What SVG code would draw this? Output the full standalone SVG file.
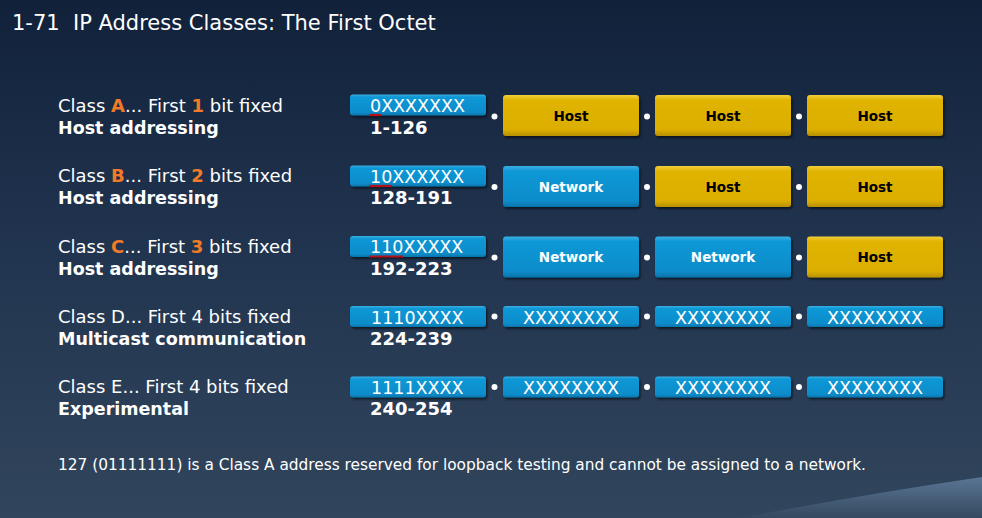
<svg xmlns="http://www.w3.org/2000/svg" width="982" height="518" viewBox="0 0 982 518">
<defs>
<linearGradient id="bg" x1="0" y1="0" x2="0" y2="1">
<stop offset="0" stop-color="#11213a"/>
<stop offset="0.5" stop-color="#223550"/>
<stop offset="1" stop-color="#31455c"/>
</linearGradient>
<linearGradient id="swoosh" x1="0" y1="0" x2="0" y2="1">
<stop offset="0" stop-color="#5a7595"/>
<stop offset="1" stop-color="#34495f"/>
</linearGradient>
<linearGradient id="blue" x1="0" y1="0" x2="0" y2="1">
<stop offset="0" stop-color="#3ab0e4"/>
<stop offset="0.12" stop-color="#1198d6"/>
<stop offset="0.85" stop-color="#0a8cca"/>
<stop offset="1" stop-color="#0672a8"/>
</linearGradient>
<linearGradient id="gold" x1="0" y1="0" x2="0" y2="1">
<stop offset="0" stop-color="#f2cf3a"/>
<stop offset="0.12" stop-color="#e0b404"/>
<stop offset="0.85" stop-color="#dcae00"/>
<stop offset="1" stop-color="#b89000"/>
</linearGradient>
<filter id="sh" x="-5%" y="-20%" width="112%" height="150%">
<feDropShadow dx="1.5" dy="2" stdDeviation="1.2" flood-color="#000" flood-opacity="0.55"/>
</filter>
</defs>
<style>
text{font-family:"DejaVu Sans",Verdana,sans-serif;fill:#fff}
.lbl{font-size:18px}
.b{font-weight:bold;font-size:17.5px}
.or{fill:#f07a28;font-weight:bold}
.bt{font-size:17.5px}
.rng{font-size:18px;font-weight:bold}
.bx{fill:url(#blue);filter:url(#sh)}
.gx{fill:url(#gold);filter:url(#sh)}
.nt{font-size:13.5px;font-weight:bold;text-anchor:middle}
.ht{font-size:13.5px;font-weight:bold;text-anchor:middle;fill:#000}
.xt{font-size:17.5px;text-anchor:middle}
.ul{stroke:#b4121a;stroke-width:2.2}
.dot{fill:#fff}
</style>
<rect width="982" height="518" fill="url(#bg)"/>
<path d="M740 518 Q860 495 982 477 L982 518 Z" fill="url(#swoosh)"/>
<text x="12" y="30" font-size="21" xml:space="preserve">1-71  IP Address Classes: The First Octet</text>

<g id="classA">
<text class="lbl" x="58" y="112">Class <tspan class="or">A</tspan>... First <tspan class="or">1</tspan> bit fixed</text>
<text class="lbl b" x="58" y="134">Host addressing</text>
<rect class="bx" x="350" y="94.5" width="136" height="21" rx="3"/>
<text class="bt" x="370" y="112">0XXXXXXX</text>
<line class="ul" x1="369" y1="115" x2="381" y2="115"/>
<text class="rng" x="370" y="133.5">1-126</text>
<rect class="gx" x="503" y="95" width="136" height="41" rx="3"/>
<text class="ht" x="571" y="121">Host</text>
<rect class="gx" x="655" y="95" width="136" height="41" rx="3"/>
<text class="ht" x="723" y="121">Host</text>
<rect class="gx" x="807" y="95" width="136" height="41" rx="3"/>
<text class="ht" x="875" y="121">Host</text>
</g>

<g id="classB">
<text class="lbl" x="58" y="182">Class <tspan class="or">B</tspan>... First <tspan class="or">2</tspan> bits fixed</text>
<text class="lbl b" x="58" y="204">Host addressing</text>
<rect class="bx" x="350" y="165.5" width="136" height="21" rx="3"/>
<text class="bt" x="370" y="183">10XXXXXX</text>
<line class="ul" x1="369" y1="186" x2="392" y2="186"/>
<text class="rng" x="370" y="204">128-191</text>
<rect class="bx" x="503" y="166" width="136" height="41" rx="3"/>
<text class="nt" x="571" y="191.5">Network</text>
<rect class="gx" x="655" y="166" width="136" height="41" rx="3"/>
<text class="ht" x="723" y="191.5">Host</text>
<rect class="gx" x="807" y="166" width="136" height="41" rx="3"/>
<text class="ht" x="875" y="191.5">Host</text>
</g>

<g id="classC">
<text class="lbl" x="58" y="252.5">Class <tspan class="or">C</tspan>... First <tspan class="or">3</tspan> bits fixed</text>
<text class="lbl b" x="58" y="274.5">Host addressing</text>
<rect class="bx" x="350" y="236" width="136" height="21" rx="3"/>
<text class="bt" x="370" y="253">110XXXXX</text>
<line class="ul" x1="369" y1="256.5" x2="403" y2="256.5"/>
<text class="rng" x="370" y="274.5">192-223</text>
<rect class="bx" x="503" y="236.5" width="136" height="41" rx="3"/>
<text class="nt" x="571" y="262">Network</text>
<rect class="bx" x="655" y="236.5" width="136" height="41" rx="3"/>
<text class="nt" x="723" y="262">Network</text>
<rect class="gx" x="807" y="236.5" width="136" height="41" rx="3"/>
<text class="ht" x="875" y="262">Host</text>
</g>

<g id="classD">
<text class="lbl" x="58" y="323">Class D... First 4 bits fixed</text>
<text class="lbl b" x="58" y="345">Multicast communication</text>
<rect class="bx" x="350" y="306" width="136" height="21" rx="3"/>
<text class="bt" x="371" y="323.5">1110XXXX</text>
<text class="rng" x="370" y="345">224-239</text>
<rect class="bx" x="503" y="306" width="136" height="21" rx="3"/>
<text class="xt" x="571" y="323.5">XXXXXXXX</text>
<rect class="bx" x="655" y="306" width="136" height="21" rx="3"/>
<text class="xt" x="723" y="323.5">XXXXXXXX</text>
<rect class="bx" x="807" y="306" width="136" height="21" rx="3"/>
<text class="xt" x="875" y="323.5">XXXXXXXX</text>
</g>

<g id="classE">
<text class="lbl" x="58" y="393">Class E... First 4 bits fixed</text>
<text class="lbl b" x="58" y="415">Experimental</text>
<rect class="bx" x="350" y="376.5" width="136" height="21" rx="3"/>
<text class="bt" x="371" y="394">1111XXXX</text>
<text class="rng" x="370" y="415">240-254</text>
<rect class="bx" x="503" y="376.5" width="136" height="21" rx="3"/>
<text class="xt" x="571" y="394">XXXXXXXX</text>
<rect class="bx" x="655" y="376.5" width="136" height="21" rx="3"/>
<text class="xt" x="723" y="394">XXXXXXXX</text>
<rect class="bx" x="807" y="376.5" width="136" height="21" rx="3"/>
<text class="xt" x="875" y="394">XXXXXXXX</text>
</g>

<g id="connectors">
<circle class="dot" cx="494.5" cy="116.5" r="3"/><circle class="dot" cx="647" cy="116.5" r="3"/><circle class="dot" cx="799" cy="116.5" r="3"/>
<circle class="dot" cx="494.5" cy="187" r="3"/><circle class="dot" cx="647" cy="187" r="3"/><circle class="dot" cx="799" cy="187" r="3"/>
<circle class="dot" cx="494.5" cy="257.5" r="3"/><circle class="dot" cx="647" cy="257.5" r="3"/><circle class="dot" cx="799" cy="257.5" r="3"/>
<circle class="dot" cx="494.5" cy="316.5" r="3"/><circle class="dot" cx="647" cy="316.5" r="3"/><circle class="dot" cx="799" cy="316.5" r="3"/>
<circle class="dot" cx="494.5" cy="387" r="3"/><circle class="dot" cx="647" cy="387" r="3"/><circle class="dot" cx="799" cy="387" r="3"/>
</g>

<text x="58" y="470" font-size="15" style="font-family:'DejaVu Sans Condensed','DejaVu Sans',sans-serif;font-stretch:condensed" textLength="808" lengthAdjust="spacingAndGlyphs">127 (01111111) is a Class A address reserved for loopback testing and cannot be assigned to a network.</text>
</svg>
